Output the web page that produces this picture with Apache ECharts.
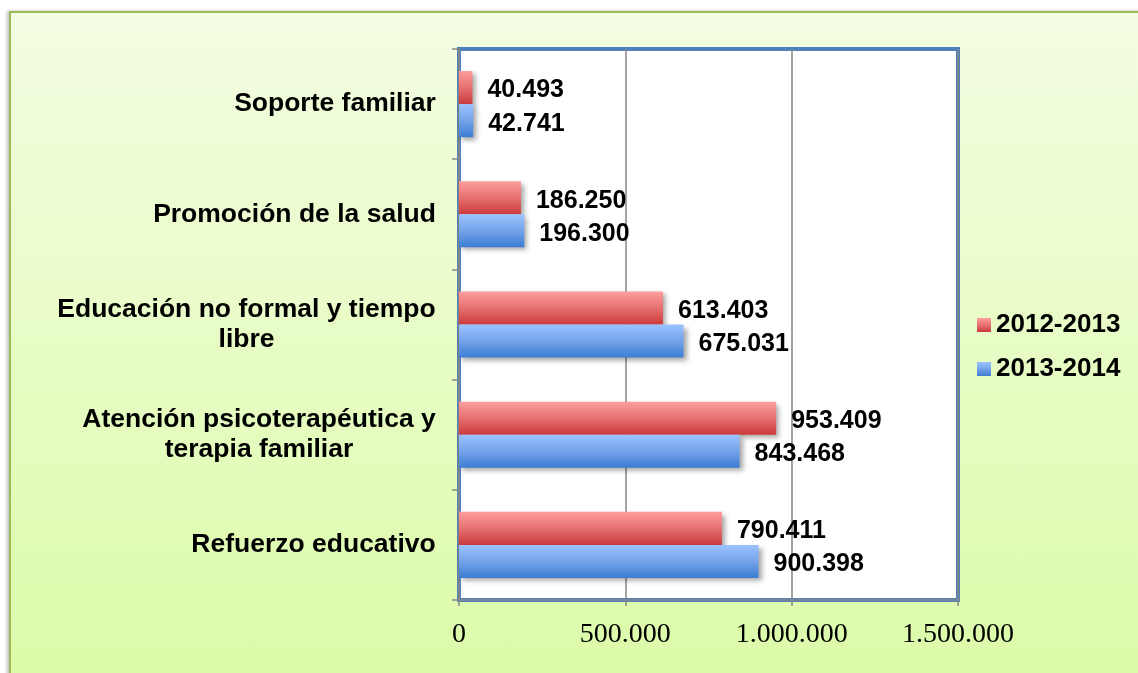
<!DOCTYPE html>
<html>
<head>
<meta charset="utf-8">
<script src="https://cdn.jsdelivr.net/npm/echarts@6/dist/echarts.min.js"></script>
<style>
  html, body { margin: 0; padding: 0; background: #ffffff; width: 1138px; height: 673px; overflow: hidden; }
  #frame { position: absolute; left: 9px; top: 11px; width: 1200px; height: 700px; box-sizing: border-box;
           border: 2px solid #9bbb59; background: linear-gradient(to bottom, #f3fde2 0%, #dbfba6 100%);
           box-shadow: -2px 0 3px rgba(0,0,0,0.25); }
  #chart { position: absolute; left: 0; top: 0; width: 1138px; height: 673px; }
</style>
</head>
<body>
<div id="frame"></div>
<div id="chart"></div>
<script>
// ---- data ----
const categories = [
  'Refuerzo educativo',
  'Atención psicoterapéutica y\nterapia familiar',
  'Educación no formal y tiempo\nlibre',
  'Promoción de la salud',
  'Soporte familiar'
];
const seriesNames = ['2012-2013', '2013-2014'];
const values2012_2013 = [790411, 953409, 613403, 186250, 40493];
const values2013_2014 = [900398, 843468, 675031, 196300, 42741];
const xTicks = [0, 500000, 1000000, 1500000];

// ---- helpers ----
function fmt(v) {
  return String(Math.round(v)).replace(/\B(?=(\d{3})+(?!\d))/g, '.');
}
const catSize = 26.5;
const catFamily = '"Liberation Sans", Arial, sans-serif';
const ctx = document.createElement('canvas').getContext('2d');
ctx.font = 'bold ' + catSize + 'px ' + catFamily;
const rich = {};
categories.forEach((c, i) => {
  const w = Math.max(...c.split('\n').map(l => ctx.measureText(l).width));
  rich['c' + i] = {
    width: Math.ceil(w), align: 'center',
    fontSize: catSize, fontWeight: 'bold', fontFamily: catFamily,
    color: '#000', lineHeight: 30
  };
});

function grad(top, mid, bottom) {
  return new echarts.graphic.LinearGradient(0, 0, 0, 1, [
    { offset: 0, color: top }, { offset: 0.5, color: mid }, { offset: 1, color: bottom }
  ]);
}
const redGrad = grad('#ff9e9e', '#e67070', '#cc3b3b');
const blueGrad = grad('#9cc3ff', '#74a3ea', '#3c7dd3');

const labelStyle = {
  show: true, position: 'right', distance: 15, offset: [0, 3],
  fontSize: 25, fontWeight: 'bold', fontFamily: catFamily,
  color: '#000', formatter: p => fmt(p.value)
};
const shadow = { shadowColor: 'rgba(0,0,0,0.35)', shadowBlur: 5, shadowOffsetX: 3, shadowOffsetY: 3 };

const chart = echarts.init(document.getElementById('chart'), null, { renderer: 'canvas' });
chart.setOption({
  backgroundColor: 'transparent',
  animation: false,
  grid: {
    left: 459, top: 49, width: 499, height: 551,
    show: true, backgroundColor: '#ffffff', borderColor: '#4f81bd', borderWidth: 4
  },
  legend: {
    orient: 'vertical', left: 972, top: 305, itemWidth: 14, itemHeight: 14, itemGap: 14,
    icon: 'rect', data: seriesNames,
    textStyle: { fontSize: 26, fontWeight: 'bold', fontFamily: catFamily, color: '#000', lineHeight: 30 }
  },
  xAxis: {
    type: 'value', min: xTicks[0], max: xTicks[xTicks.length - 1], interval: xTicks[1] - xTicks[0],
    axisLine: { show: true, lineStyle: { color: '#868686', width: 1.5 } },
    axisTick: { show: true, length: 6, lineStyle: { color: '#868686', width: 1.5 } },
    splitLine: { show: true, lineStyle: { color: '#868686', width: 1.5 } },
    axisLabel: { margin: 21, fontSize: 28, fontFamily: '"Liberation Serif", "Times New Roman", serif', color: '#000',
                 formatter: v => fmt(v) }
  },
  yAxis: {
    type: 'category', data: categories,
    axisLine: { show: true, lineStyle: { color: '#868686', width: 1.5 } },
    axisTick: { show: true, length: 7, lineStyle: { color: '#868686', width: 1.5 } },
    axisLabel: {
      margin: 23, rich: rich,
      formatter: (v, i) => v.split('\n').map(l => '{c' + i + '|' + l + '}').join('\n')
    }
  },
  series: [
    { name: seriesNames[0], type: 'bar', data: values2012_2013, barGap: '0%', barCategoryGap: '40%',
      itemStyle: Object.assign({ color: redGrad }, shadow), label: labelStyle },
    { name: seriesNames[1], type: 'bar', data: values2013_2014, barGap: '0%', barCategoryGap: '40%',
      itemStyle: Object.assign({ color: blueGrad }, shadow), label: labelStyle }
  ]
});
</script>
</body>
</html>
